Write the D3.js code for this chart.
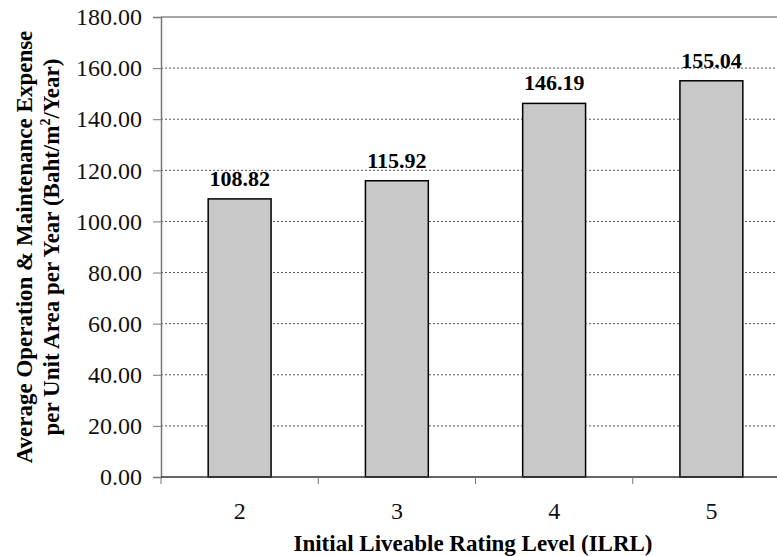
<!DOCTYPE html>
<html>
<head>
<meta charset="utf-8">
<script src="https://cdn.jsdelivr.net/npm/d3@7"></script>
<style>
  body { margin: 0; background: #fff; }
</style>
</head>
<body>
<div id="chart"></div>
<script>
// data
const levels = ["2", "3", "4", "5"];
const expense = [108.82, 115.92, 146.19, 155.04];
const yTicks = [0, 20, 40, 60, 80, 100, 120, 140, 160, 180];

const W = 777, H = 556;
const margin = {top: 17, right: -13, bottom: 79, left: 161};
const FONT = "Liberation Serif";

const svg = d3.select("#chart").append("svg")
  .attr("width", W)
  .attr("height", H)
  .attr("font-family", FONT);

const x = d3.scaleBand()
  .domain(levels)
  .range([margin.left, W - margin.right])
  .paddingInner(0.6)
  .paddingOuter(0.3);

const y = d3.scaleLinear()
  .domain([0, 180])
  .range([H - margin.bottom, margin.top]);

// gridlines (dotted)
svg.append("g")
  .selectAll("line")
  .data(yTicks.filter(d => d > 0 && d < 180))
  .join("line")
  .attr("x1", margin.left)
  .attr("x2", W - margin.right)
  .attr("y1", d => y(d))
  .attr("y2", d => y(d))
  .attr("stroke", "#555")
  .attr("stroke-width", 1)
  .attr("stroke-dasharray", "2,2");

// top frame line
svg.append("line")
  .attr("x1", margin.left).attr("x2", W - margin.right)
  .attr("y1", y(180)).attr("y2", y(180))
  .attr("stroke", "#888").attr("stroke-width", 1.5);

// bars
svg.append("g")
  .selectAll("rect")
  .data(expense)
  .join("rect")
  .attr("x", (d, i) => x(levels[i]))
  .attr("y", d => y(d))
  .attr("width", x.bandwidth())
  .attr("height", d => y(0) - y(d))
  .attr("fill", "#c8c8c8")
  .attr("stroke", "#000")
  .attr("stroke-width", 1.5);

// value labels
svg.append("g")
  .selectAll("text")
  .data(expense)
  .join("text")
  .attr("x", (d, i) => x(levels[i]) + x.bandwidth() / 2)
  .attr("y", d => y(d) - 13)
  .attr("text-anchor", "middle")
  .attr("font-family", FONT)
  .attr("font-size", "22px")
  .attr("font-weight", "bold")
  .text(d => d.toFixed(2));

// y axis
const yAxis = d3.axisLeft(y)
  .tickValues(yTicks)
  .tickFormat(d => d.toFixed(2))
  .tickSizeOuter(0)
  .tickSize(8)
  .tickPadding(11);

const gy = svg.append("g")
  .attr("transform", `translate(${margin.left},0)`)
  .call(yAxis)
  .attr("font-family", FONT)
  .attr("font-size", null);
gy.select(".domain").attr("stroke", "#777").attr("stroke-width", 1.5);
gy.selectAll(".tick line").attr("stroke", "#777");
gy.selectAll(".tick text")
  .attr("font-family", FONT)
  .attr("font-size", "24px")
  .attr("fill", "#111");

// x axis: ticks at category boundaries
const bounds = [margin.left];
levels.forEach(l => bounds.push(x(l) + x.bandwidth() / 2 + x.step() / 2));

svg.append("line")
  .attr("x1", margin.left).attr("x2", W - margin.right)
  .attr("y1", y(0)).attr("y2", y(0))
  .attr("stroke", "#333").attr("stroke-width", 1.5);

svg.append("g")
  .selectAll("line")
  .data(bounds)
  .join("line")
  .attr("x1", d => d).attr("x2", d => d)
  .attr("y1", y(0)).attr("y2", y(0) + 7)
  .attr("stroke", "#777");

svg.append("g")
  .selectAll("text")
  .data(levels)
  .join("text")
  .attr("x", d => x(d) + x.bandwidth() / 2)
  .attr("y", y(0) + 42)
  .attr("text-anchor", "middle")
  .attr("font-family", FONT)
  .attr("font-size", "24px")
  .attr("fill", "#111")
  .text(d => d);

// x title
svg.append("text")
  .attr("x", 473)
  .attr("y", 551)
  .attr("text-anchor", "middle")
  .attr("font-family", FONT)
  .attr("font-size", "23px")
  .attr("font-weight", "bold")
  .text("Initial Liveable Rating Level (ILRL)");

// y title (two lines)
const yTitle = svg.append("text")
  .attr("transform", "translate(0,247) rotate(-90)")
  .attr("text-anchor", "middle")
  .attr("font-family", FONT)
  .attr("font-size", "23px")
  .attr("font-weight", "bold");
yTitle.append("tspan")
  .attr("x", 0).attr("y", 32)
  .text("Average Operation & Maintenance Expense");
const l2 = yTitle.append("tspan")
  .attr("x", 0).attr("y", 59);
l2.append("tspan").text("per Unit Area per Year (Baht/m");
l2.append("tspan").attr("dy", -9).attr("font-size", "14px").text("2");
l2.append("tspan").attr("dy", 9).text("/Year)");
</script>
</body>
</html>
